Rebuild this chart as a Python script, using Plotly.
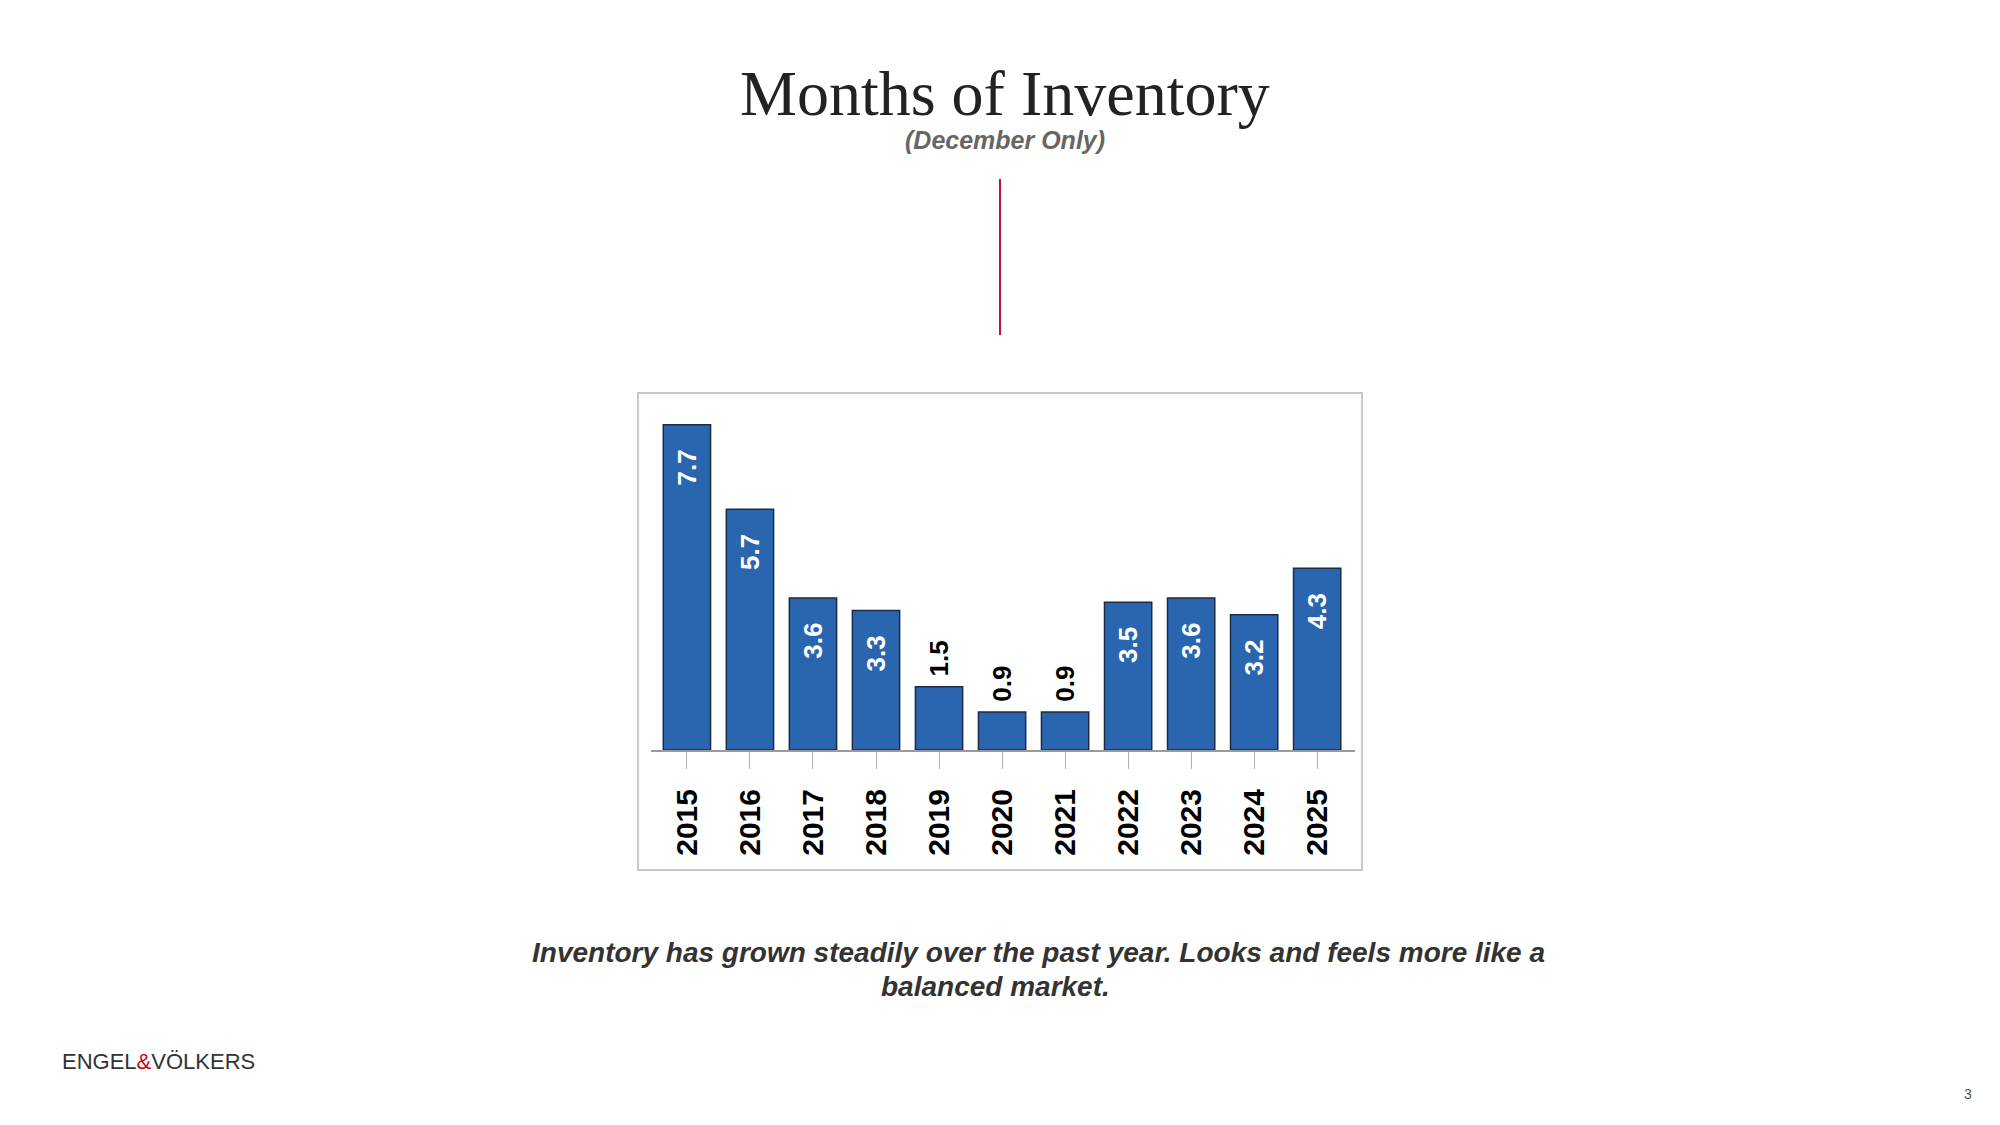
import plotly.graph_objects as go

years = ['2015', '2016', '2017', '2018', '2019', '2020', '2021', '2022', '2023', '2024', '2025']
months_inventory = [7.7, 5.7, 3.6, 3.3, 1.5, 0.9, 0.9, 3.5, 3.6, 3.2, 4.3]

# the page body has an 8px margin, so the figure starts at (8, 8) in the window
OFF = 8
W, H = 2000 - OFF, 1125 - OFF
NBSP = '\u00a0'

# short bars get their label above the bar, the rest inside at the top
positions = ['outside' if v < 2 else 'inside' for v in months_inventory]
labels = [(NBSP + f'{v:.1f}') if p == 'outside' else (f'{v:.1f}' + NBSP * 3)
          for v, p in zip(months_inventory, positions)]

sans = 'Liberation Sans, Arial, Helvetica'


def px(x, y):
    # window pixel position -> paper coords
    return (x - OFF) / W, 1 - (y - OFF) / H


fig = go.Figure(go.Bar(
    x=years,
    y=months_inventory,
    text=labels,
    textposition=positions,
    insidetextanchor='end',
    textangle=-90,
    constraintext='none',
    cliponaxis=False,
    insidetextfont=dict(family=sans, size=26, color='white', weight='bold'),
    outsidetextfont=dict(family=sans, size=26, color='black', weight='bold'),
    marker=dict(color='#2a66b0', line=dict(color='#1c2c48', width=1.5)),
    hoverinfo='x+y',
))

fig.update_layout(
    width=W,
    height=H,
    margin=dict(l=0, r=0, t=0, b=0),
    paper_bgcolor='white',
    plot_bgcolor='white',
    showlegend=False,
    bargap=0.25,
    xaxis=dict(
        domain=[px(651, 0)[0], px(1355, 0)[0]],
        range=[-0.57, 10.6],
        showgrid=False,
        showline=True,
        linecolor='#9a9a9a',
        linewidth=2,
        ticks='outside',
        ticklen=17,
        tickwidth=1,
        tickcolor='#b0b0b0',
        tickangle=-90,
        ticklabelstandoff=8,
        tickfont=dict(family=sans, size=30, color='black', weight='bold'),
        fixedrange=True,
    ),
    yaxis=dict(
        domain=[px(0, 750)[1], px(0, 412)[1]],
        range=[0, 8],
        visible=False,
        fixedrange=True,
    ),
)

# frame around the chart
x0, y0 = px(638, 870)
x1, y1 = px(1362, 393)
fig.add_shape(type='rect', xref='paper', yref='paper', x0=x0, y0=y0, x1=x1, y1=y1,
              line=dict(color='#c8c8c8', width=2), layer='below')

# red divider under the title
lx, ly0 = px(1000, 335)
_, ly1 = px(1000, 179)
fig.add_shape(type='line', xref='paper', yref='paper', x0=lx, x1=lx, y0=ly0, y1=ly1,
              line=dict(color='#c8102e', width=2))

tx, ty = px(1005, 93)
fig.add_annotation(text='Months of Inventory', x=tx, y=ty, xref='paper', yref='paper',
                   showarrow=False, xanchor='center', yanchor='middle',
                   font=dict(family='Georgia, Liberation Serif, serif', size=64, color='#222222'))

sx, sy = px(1005, 140)
fig.add_annotation(text='<b><i>(December Only)</i></b>', x=sx, y=sy, xref='paper', yref='paper',
                   showarrow=False, xanchor='center', yanchor='middle',
                   font=dict(family=sans, size=25, color='#666666'))

# comment below the chart, two lines with their own centres as on the slide
c1x, c1y = px(1038, 952)
fig.add_annotation(text='<b><i>Inventory has grown steadily over the past year. Looks and feels more like a</i></b>',
                   x=c1x, y=c1y, xref='paper', yref='paper',
                   showarrow=False, xanchor='center', yanchor='middle',
                   font=dict(family=sans, size=28, color='#333333'))
c2x, c2y = px(995, 986)
fig.add_annotation(text='<b><i>balanced market.</i></b>',
                   x=c2x, y=c2y, xref='paper', yref='paper',
                   showarrow=False, xanchor='center', yanchor='middle',
                   font=dict(family=sans, size=28, color='#333333'))

gx, gy = px(60, 1061)
fig.add_annotation(text="ENGEL<span style='color:#d0021b'>&</span>VÖLKERS",
                   x=gx, y=gy, xref='paper', yref='paper',
                   showarrow=False, xanchor='left', yanchor='middle',
                   font=dict(family=sans, size=22, color='#333333'))

nx, ny = px(1968, 1094)
fig.add_annotation(text='3', x=nx, y=ny, xref='paper', yref='paper',
                   showarrow=False, xanchor='center', yanchor='middle',
                   font=dict(family=sans, size=14, color='#555555'))

fig.write_html('out.html')
